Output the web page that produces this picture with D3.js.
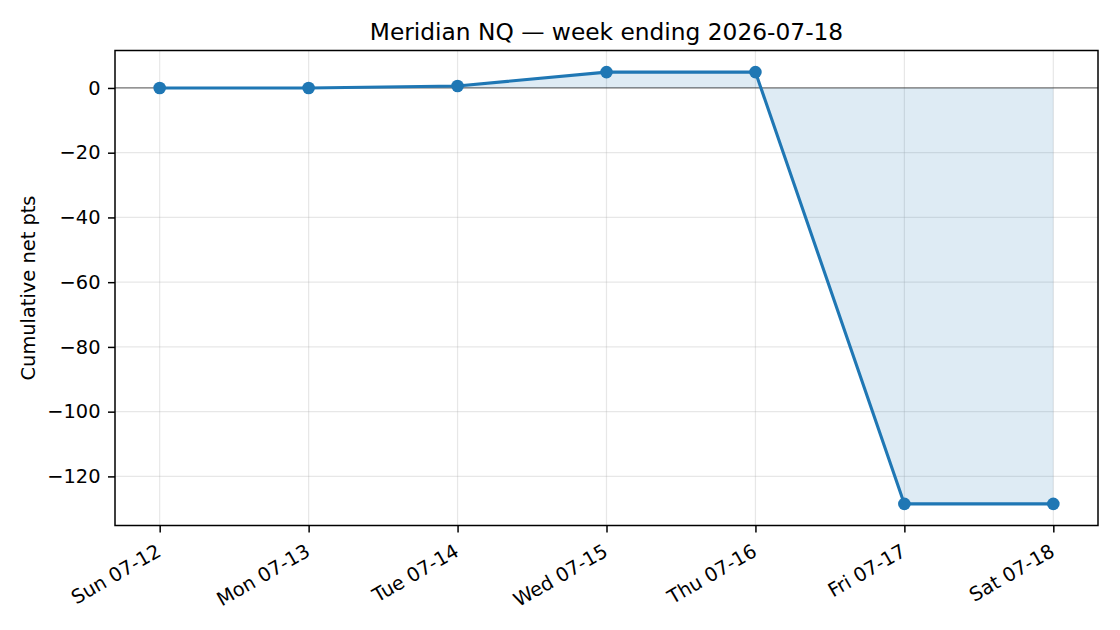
<!DOCTYPE html>
<html>
<head>
<meta charset="utf-8">
<script src="https://cdn.jsdelivr.net/npm/d3@7"></script>
<style>
    body { margin: 0; background: #fff; }
    svg { display: block; font-family: "DejaVu Sans", sans-serif; }
</style>
</head>
<body>
<div id="graph"></div>
<script>
// data
const days = ["Sun 07-12", "Mon 07-13", "Tue 07-14", "Wed 07-15", "Thu 07-16", "Fri 07-17", "Sat 07-18"];
const cumPts = [0, 0, 0.6, 4.9, 4.9, -128.5, -128.5];
const yTicks = [0, -20, -40, -60, -80, -100, -120];

const W = 1120, H = 630;
const margin = { top: 50.5, right: 22, bottom: 104.5, left: 115 };
const width = W - margin.left - margin.right;
const height = H - margin.top - margin.bottom;
const blue = "#1f77b4";
const tickFont = 19.4;

const svg = d3.select("#graph").append("svg")
    .attr("width", W)
    .attr("height", H);

const g = svg.append("g")
    .attr("transform", `translate(${margin.left}, ${margin.top})`);

// matplotlib style 5% margins
const x = d3.scaleLinear()
    .domain([-0.3, days.length - 1 + 0.3])
    .range([0, width]);

const yMin = d3.min(cumPts), yMax = d3.max(cumPts);
const pad = (yMax - yMin) * 0.05;
const y = d3.scaleLinear()
    .domain([yMin - pad, yMax + pad])
    .range([height, 0]);

// grid
g.append("g").selectAll("line").data(yTicks).join("line")
    .attr("x1", 0).attr("x2", width)
    .attr("y1", d => y(d)).attr("y2", d => y(d))
    .attr("stroke", "#b0b0b0").attr("stroke-opacity", 0.3).attr("stroke-width", 1.2);
g.append("g").selectAll("line").data(days).join("line")
    .attr("x1", (d, i) => x(i)).attr("x2", (d, i) => x(i))
    .attr("y1", 0).attr("y2", height)
    .attr("stroke", "#b0b0b0").attr("stroke-opacity", 0.3).attr("stroke-width", 1.2);

// fill between 0 and the curve
g.append("path")
    .datum(cumPts)
    .attr("fill", blue)
    .attr("fill-opacity", 0.15)
    .attr("d", d3.area()
        .x((d, i) => x(i))
        .y0(y(0))
        .y1(d => y(d)));

// zero line
g.append("line")
    .attr("x1", 0).attr("x2", width)
    .attr("y1", y(0)).attr("y2", y(0))
    .attr("stroke", "#000").attr("stroke-opacity", 0.5).attr("stroke-width", 1.3);

g.append("path")
    .datum(cumPts)
    .attr("fill", "none")
    .attr("stroke", blue)
    .attr("stroke-width", 3.1)
    .attr("stroke-linejoin", "round")
    .attr("d", d3.line()
        .x((d, i) => x(i))
        .y(d => y(d)));

g.append("g").selectAll("circle").data(cumPts).join("circle")
    .attr("cx", (d, i) => x(i))
    .attr("cy", d => y(d))
    .attr("r", 6.3)
    .attr("fill", blue);

// axes
const xAxis = d3.axisBottom(x)
    .tickValues(d3.range(days.length))
    .tickFormat(i => days[i])
    .tickSize(7)
    .tickPadding(4);
const xg = g.append("g")
    .attr("transform", `translate(0, ${height})`)
    .call(xAxis);
xg.selectAll("text")
    .attr("font-size", tickFont)
    .attr("fill", "#000")
    .attr("text-anchor", "end")
    .attr("dy", null)
    .attr("y", null)
    .attr("dominant-baseline", "hanging")
    .attr("transform", "translate(-5, 17) rotate(-30)");

const yAxis = d3.axisLeft(y)
    .tickValues(yTicks)
    .tickFormat(d => d < 0 ? "\u2212" + Math.abs(d) : d)
    .tickSize(7)
    .tickPadding(7.5);
const yg = g.append("g").call(yAxis);
yg.selectAll("text").attr("font-size", tickFont).attr("fill", "#000");

[xg, yg].forEach(a => {
    a.select(".domain").remove();
    a.selectAll(".tick line").attr("stroke", "#000").attr("stroke-width", 1.5);
    a.attr("font-family", null);
});

// spines
g.append("rect")
    .attr("width", width).attr("height", height)
    .attr("fill", "none")
    .attr("stroke", "#000").attr("stroke-width", 1.5);

svg.append("text")
    .attr("x", margin.left + width / 2)
    .attr("y", 40)
    .attr("text-anchor", "middle")
    .attr("font-size", 23.3)
    .text("Meridian NQ \u2014 week ending 2026-07-18");

svg.append("text")
    .attr("transform", `translate(35, ${margin.top + height / 2}) rotate(-90)`)
    .attr("text-anchor", "middle")
    .attr("font-size", 19.4)
    .text("Cumulative net pts");
</script>
</body>
</html>
